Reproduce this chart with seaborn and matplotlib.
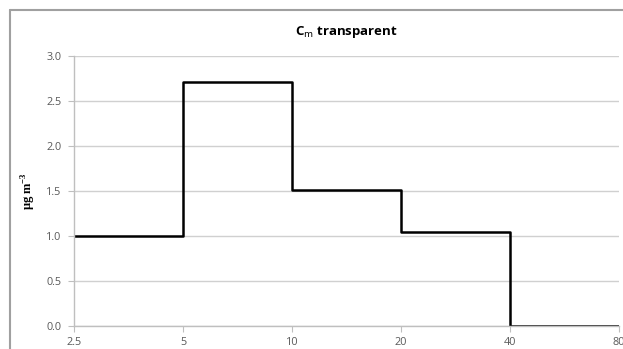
import matplotlib
matplotlib.use("Agg")
import matplotlib.pyplot as plt
from matplotlib.lines import Line2D
import seaborn as sns
import pandas as pd

# Data
size_edges = [2.5, 5, 10, 20, 40, 80]
tick_labels = ["2.5", "5", "10", "20", "40", "80"]
conc = [1.0, 2.71, 1.51, 1.04, 0.0]          # value per size bin
y_ticks = [0.0, 0.5, 1.0, 1.5, 2.0, 2.5, 3.0]
title = "C$_\\mathregular{m}$ transparent"

sns.set_theme(style="white")
plt.rcParams['font.family'] = ['Open Sans', 'DejaVu Sans']
plt.rcParams['mathtext.fontset'] = 'custom'
plt.rcParams['mathtext.rm'] = 'Liberation Serif:bold'

df = pd.DataFrame({"size": size_edges, "conc": conc + [conc[-1]]})

fig = plt.figure(figsize=(6.23, 3.49), dpi=100)
ax = fig.add_axes([74/623, 1 - 325.7/349, (619 - 74)/623, (325.7 - 55.7)/349])

sns.lineplot(data=df, x="size", y="conc", ax=ax, color="black",
             linewidth=1.8, drawstyle="steps-post", estimator=None)

ax.set_xscale("log", base=2)
ax.set_xlim(size_edges[0], size_edges[-1])
ax.set_xticks(size_edges)
ax.set_xticklabels(tick_labels)
ax.minorticks_off()
ax.set_ylim(0, 3.0)
ax.set_yticks(y_ticks)
ax.set_yticklabels([f"{v:.1f}" for v in y_ticks])

ax.yaxis.grid(True, color="#d0d0d0", linewidth=1.0)
ax.xaxis.grid(False)
ax.set_axisbelow(True)

for s in ["top", "right"]:
    ax.spines[s].set_visible(False)
for s in ["left", "bottom"]:
    ax.spines[s].set_color("#bfbfbf")
    ax.spines[s].set_linewidth(1.0)

ax.tick_params(axis="both", which="major", length=4, width=0.8, color="#bfbfbf",
               labelsize=7.8, labelcolor="#595959", direction="out", pad=3)
ax.tick_params(axis="x", bottom=True, pad=4)
ax.tick_params(axis="y", left=True, pad=5)

ax.set_xlabel("")
ax.set_ylabel("μg m$^{\\mathregular{-3}}$", family=["Liberation Serif", "DejaVu Serif"],
              fontweight="bold", fontsize=9, color="#000000", labelpad=6)

ax.set_title("C$_{\\mathsf{m}}$ transparent", fontsize=9.5, fontweight="bold",
             color="#000000", pad=15)

# chart frame (cropped border)
fig.add_artist(Line2D([10/623, 10/623], [0, 1 - 9.5/349], transform=fig.transFigure,
                      color="#a0a0a0", linewidth=1.5))
fig.add_artist(Line2D([10/623, 1], [1 - 9.5/349, 1 - 9.5/349], transform=fig.transFigure,
                      color="#a0a0a0", linewidth=1.5))

fig.savefig("out.png", dpi=100)
